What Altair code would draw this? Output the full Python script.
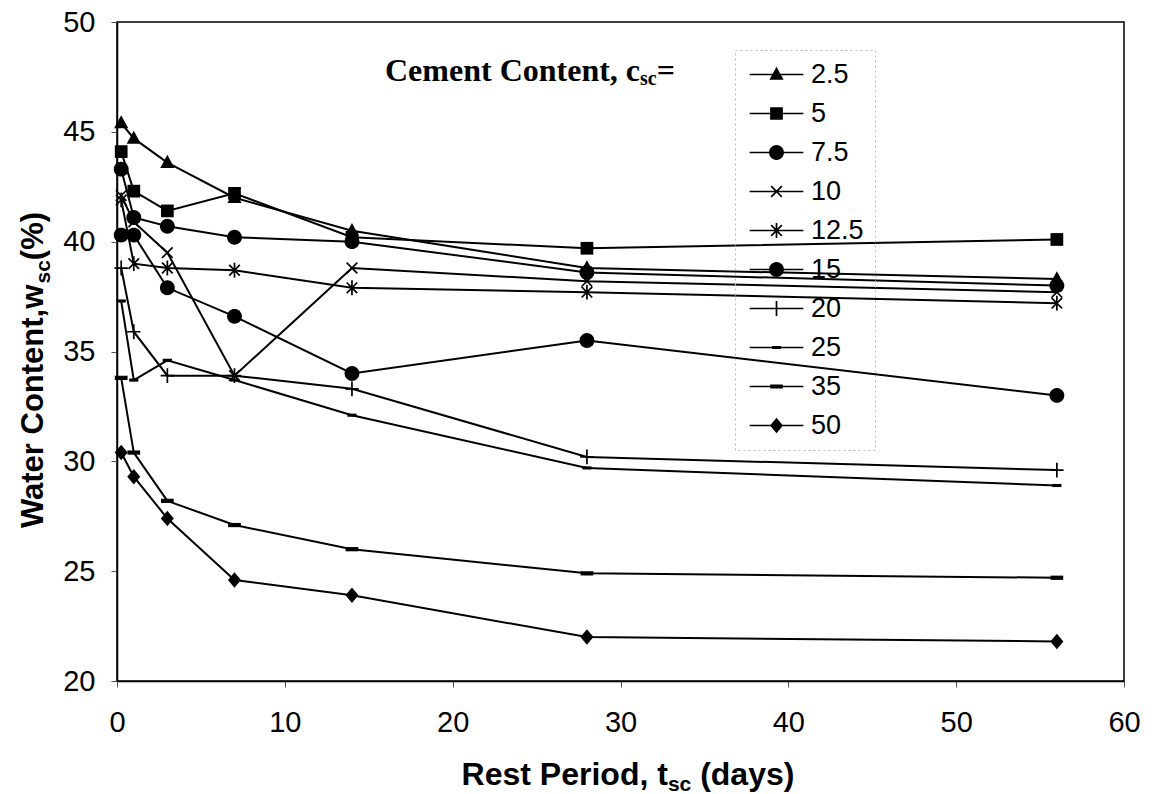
import math

import altair as alt
import pandas as pd

# Rest period (days) at which each mix was sampled
rest_days = [0.25, 1, 3, 7, 14, 28, 56]

# Cement content of each mix (legend entries)
cement_contents = ["2.5", "5", "7.5", "10", "12.5", "15", "20", "25", "35", "50"]

# Water content w_sc (%) for each mix
water_2_5 = [45.4, 44.7, 43.6, 42.0, 40.5, 38.8, 38.3]
water_5 = [44.1, 42.3, 41.4, 42.2, 40.2, 39.7, 40.1]
water_7_5 = [43.3, 41.1, 40.7, 40.2, 40.0, 38.6, 38.0]
water_10 = [42.1, 40.9, 39.5, 33.9, 38.8, 38.2, 37.7]
water_12_5 = [41.9, 39.0, 38.8, 38.7, 37.9, 37.7, 37.2]
water_15 = [40.3, 40.3, 37.9, 36.6, 34.0, 35.5, 33.0]
water_20 = [38.8, 35.9, 33.9, 33.9, 33.3, 30.2, 29.6]
water_25 = [37.3, 33.7, 34.6, 33.7, 32.1, 29.7, 28.9]
water_35 = [33.8, 30.4, 28.2, 27.1, 26.0, 24.9, 24.7]
water_50 = [30.4, 29.3, 27.4, 24.6, 23.9, 22.0, 21.8]

x_ticks = [0, 10, 20, 30, 40, 50, 60]
y_ticks = [20, 25, 30, 35, 40, 45, 50]

water_by_mix = [water_2_5, water_5, water_7_5, water_10, water_12_5,
                water_15, water_20, water_25, water_35, water_50]

rows = []
for mix, series in zip(cement_contents, water_by_mix):
    for day, w in zip(rest_days, series):
        rows.append({"cement": mix, "days": day, "water": w})
df = pd.DataFrame(rows)


# ---- symbol outlines in Vega's unit box (all drawn as filled polygons) ----
def poly(points):
    return "M" + "L".join(f"{x:.3f},{y:.3f}" for x, y in points) + "Z"


def bar(x1, y1, x2, y2, hw=0.12):
    """Thin filled quad along a segment (same winding as the other shapes)."""
    dx, dy = x2 - x1, y2 - y1
    n = math.hypot(dx, dy)
    nx, ny = -dy / n * hw, dx / n * hw
    return poly([(x1 - nx, y1 - ny), (x2 - nx, y2 - ny),
                 (x2 + nx, y2 + ny), (x1 + nx, y1 + ny)])


def disc(r=1.05, k=28):
    return poly([(r * math.cos(2 * math.pi * i / k), r * math.sin(2 * math.pi * i / k))
                 for i in range(k)])


TRIANGLE = poly([(0, -1.1), (1.0, 0.75), (-1.0, 0.75)])
SQUARE = poly([(-0.9, -0.9), (0.9, -0.9), (0.9, 0.9), (-0.9, 0.9)])
CIRCLE = disc()
CROSS = bar(-0.75, -0.75, 0.75, 0.75) + bar(-0.75, 0.75, 0.75, -0.75)
STAR = CROSS + bar(0, -1.05, 0, 1.05)
PLUS = bar(-0.95, 0, 0.95, 0) + bar(0, -1.05, 0, 1.05)
SHORT_BAR = poly([(-0.65, -0.22), (0.65, -0.22), (0.65, 0.22), (-0.65, 0.22)])
LONG_BAR = poly([(-0.9, -0.3), (0.9, -0.3), (0.9, 0.3), (-0.9, 0.3)])
DIAMOND = poly([(0, -1.1), (0.92, 0), (0, 1.1), (-0.92, 0)])

marker_paths = [TRIANGLE, SQUARE, CIRCLE, CROSS, STAR,
                CIRCLE, PLUS, SHORT_BAR, LONG_BAR, DIAMOND]
# Legend keys: the same markers sitting on a short line segment
legend_paths = [bar(-3.8, 0, 3.8, 0, 0.11) + p for p in marker_paths]

x_enc = alt.X("days:Q", scale=alt.Scale(domain=[0, 60], nice=False),
              axis=alt.Axis(values=x_ticks, title=None, labelPadding=21))
y_enc = alt.Y("water:Q", scale=alt.Scale(domain=[20, 50], nice=False),
              axis=alt.Axis(values=y_ticks, title=None, labelPadding=16))

base = alt.Chart(df)

lines = base.mark_line(color="black", strokeWidth=2).encode(
    x=x_enc, y=y_enc, detail="cement:N", order="days:Q"
)

points = base.mark_point(
    filled=True, fill="black", opacity=1, size=200
).encode(
    x=x_enc, y=y_enc,
    shape=alt.Shape("cement:N", scale=alt.Scale(domain=cement_contents, range=marker_paths),
                    legend=None),
)

legend_keys = base.transform_filter("datum.days < 0").mark_point(
    filled=True, fill="black", opacity=1, size=200
).encode(
    x=x_enc, y=y_enc,
    shape=alt.Shape(
        "cement:N",
        scale=alt.Scale(domain=cement_contents, range=legend_paths),
        legend=alt.Legend(
            title=None, orient="none", legendX=618, legendY=28,
            padding=11, symbolOffset=17, labelOffset=21, rowPadding=11,
            symbolSize=200, symbolFillColor="black",
            labelFont="Liberation Sans", labelFontSize=27, labelColor="black",
            strokeColor="#b8b8b8",
        ),
    ),
)

# Advance widths (per 1000 em) for composing titles with subscripts
ARIAL_BOLD = {" ": 278, "(": 333, ")": 333, ",": 278, "%": 889, "a": 556, "c": 556,
              "d": 611, "e": 556, "i": 278, "n": 611, "o": 611, "r": 389, "s": 556,
              "t": 333, "w": 778, "y": 556, "C": 722, "P": 667, "R": 722, "W": 944}
TIMES_BOLD = {" ": 250, ",": 250, "=": 570, "C": 722, "c": 444, "e": 444, "m": 833,
              "n": 556, "o": 500, "s": 389, "t": 333}


def width(s, table, size):
    return sum(table[ch] for ch in s) * size / 1000.0


def rich_title(pieces, table, font, x, y, angle=0, centered=True):
    """Lay out (text, size, baseline shift) pieces one after another.

    Leading spaces are turned into an advance, since SVG collapses them.
    """
    total = sum(width(t, table, s) for t, s, _ in pieces)
    offset = -total / 2 if centered else 0.0
    layers = []
    for text, size, shift in pieces:
        stripped = text.lstrip(" ")
        offset += width(text[: len(text) - len(stripped)], table, size)
        layers.append(
            alt.Chart(pd.DataFrame({"label": [stripped]})).mark_text(
                align="left", baseline="alphabetic", font=font, fontSize=size,
                fontWeight="bold", color="black", angle=angle,
                dx=offset, dy=shift,
            ).encode(x=alt.value(x), y=alt.value(y), text="label:N")
        )
        offset += width(stripped, table, size)
    return layers


x_title = rich_title([("Rest Period, t", 32, 0), ("sc", 21, 6), (" (days)", 32, 0)],
                     ARIAL_BOLD, "Liberation Sans", 511, 763)
y_title = rich_title([("Water Content,w", 31, 0), ("sc", 21, 7), ("(%)", 31, 0)],
                     ARIAL_BOLD, "Liberation Sans", -74, 348, angle=270)
legend_title = rich_title([("Cement Content, c", 32, 0), ("sc", 20, 4), ("=", 32, 0)],
                          TIMES_BOLD, "Liberation Serif", 268, 59, centered=False)

chart = alt.layer(
    lines, points, legend_keys, *x_title, *y_title, *legend_title
).resolve_scale(
    shape="independent"
).properties(
    width=1007, height=659,
    autosize=alt.AutoSizeParams(type="none"),
    padding={"left": 117, "top": 22, "right": 34, "bottom": 113},
    background="white",
).configure_view(
    stroke="black", strokeWidth=1.5
).configure_axis(
    grid=False, domainColor="black", domainWidth=1.5,
    tickColor="#555", tickSize=6, tickWidth=1, labelFlush=False,
    labelFont="Liberation Sans", labelFontSize=29, labelColor="black",
).configure_legend(
    strokeDash=[2, 3]
)

chart.save("out.html", embed_options={"renderer": "svg", "actions": False})
